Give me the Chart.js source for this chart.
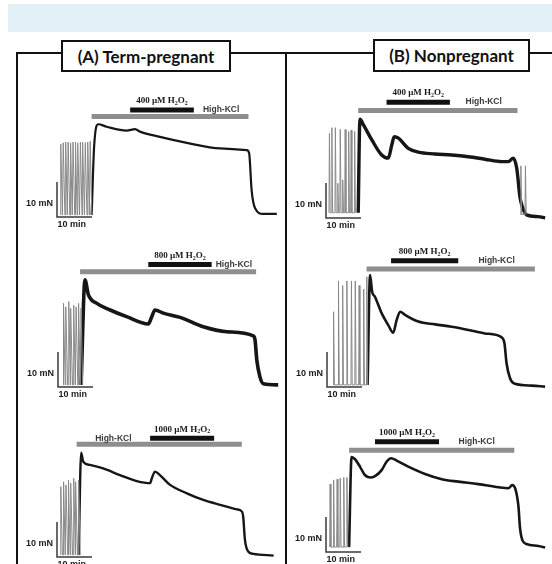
<!DOCTYPE html>
<html>
<head>
<meta charset="utf-8">
<script src="https://cdn.jsdelivr.net/npm/chart.js@4.4.0/dist/chart.umd.min.js"></script>
<style>
  body { margin: 0; background: #fff; width: 552px; height: 564px; overflow: hidden; position: relative; }
  .band { position: absolute; left: 8px; top: 4px; width: 544px; height: 28px; background: #e3f1f6; }
  .ln { position: absolute; background: #111; }
  .title { position: absolute; box-sizing: border-box; border: 2px solid #111; background: #fff;
           font: bold 17px Lato, sans-serif; color: #111; display: flex; align-items: center; justify-content: center; }
  canvas { position: absolute; }
</style>
</head>
<body>
<div class="band"></div>
<div class="ln" style="left:16px;top:52px;width:2px;height:512px"></div>
<div class="ln" style="left:16px;top:52px;width:536px;height:2px"></div>
<div class="ln" style="left:285px;top:52px;width:2px;height:512px"></div>
<div class="title" style="left:61px;top:40px;width:170px;height:32px">(A) Term-pregnant</div>
<div class="title" style="left:373px;top:39px;width:157px;height:33px">(B) Nonpregnant</div>

<canvas id="a1"></canvas>
<canvas id="b1"></canvas>
<canvas id="a2"></canvas>
<canvas id="b2"></canvas>
<canvas id="a3"></canvas>
<canvas id="b3"></canvas>

<script>
// Scale bars: 10 mN and 10 min
var scaleMin = 10;
var scaleMn = 10;

// (A) term-pregnant, 400 uM H2O2
var a1SpikeT = [1.0, 1.7, 2.4, 3.1, 3.8, 4.5, 5.2, 5.9, 6.6, 7.3, 8.0, 8.7, 9.4];
var a1SpikeF = [20.8, 21.2, 21.4, 21.4, 21.2, 21.4, 21.4, 21.2, 21.4, 21.4, 21.2, 21.4, 21.6];
var a1Time  = [9.9, 10.6, 11.8, 14.2, 19.9, 22.3, 23.7, 29.4, 37.1, 46.6, 54.2, 54.9, 55.6, 56.6, 58.9, 62.8];
var a1Force = [0.6, 20.0, 26.5, 25.8, 24.7, 25.1, 24.4, 22.9, 21.2, 19.6, 19.1, 18.2, 7.7, 2.5, 0.9, 0.9];
var a1Kcl  = [9.9, 54.7];
var a1Drug = [20.9, 39.1];

// (B) nonpregnant, 400 uM H2O2
var b1SpikeT = [0.9, 1.6, 2.6, 3.3, 4.0, 4.7, 5.4, 6.4, 7.1, 8.1];
var b1SpikeF = [24.2, 25.8, 25.8, 9.9, 25.3, 10.9, 25.3, 24.7, 25.1, 24.7];
var b1Time  = [9.2, 9.7, 10.7, 13.1, 15.9, 17.8, 18.8, 19.5, 20.7, 23.5, 26.4, 31.1, 35.9, 40.7, 45.4, 50.2, 52.1, 53.5, 54.5, 55.4, 56.1, 57.3, 60.6, 62.6];
var b1Force = [1.5, 28.2, 26.6, 22.3, 18.0, 17.1, 20.9, 23.2, 22.8, 19.9, 18.8, 18.3, 18.0, 17.5, 16.8, 16.1, 16.1, 17.1, 14.2, 6.1, 3.2, 0.9, 0.4, 0.0];
var b1LateT = [55.6, 56.9];
var b1LateF = [14.9, 14.9];
var b1Kcl  = [9.2, 54.7];
var b1Drug = [17.3, 35.4];

// (A) term-pregnant, 800 uM H2O2
var a2SpikeT = [1.5, 2.2, 3.0, 3.6, 4.4, 5.1, 5.8, 6.5];
var a2SpikeF = [23.9, 22.9, 24.4, 22.5, 23.4, 22.9, 23.9, 22.5];
var a2Time  = [6.6, 7.7, 8.7, 11.1, 14.9, 19.6, 25.8, 26.8, 27.7, 30.1, 34.9, 41.5, 48.2, 55.8, 56.3, 56.8, 57.7, 58.7, 62.9];
var a2Force = [0.6, 30.6, 26.3, 23.9, 22.0, 20.1, 18.0, 20.1, 22.0, 21.1, 19.9, 17.2, 15.8, 14.6, 13.4, 7.7, 2.9, 0.9, 0.6];
var a2Kcl  = [6.3, 56.6];
var a2Drug = [25.8, 43.9];

// (B) nonpregnant, 800 uM H2O2
var b2SpikeT = [1.8, 3.2, 4.4, 5.6, 6.9, 8.0, 9.1, 10.4, 11.3];
var b2SpikeF = [21.5, 30.3, 29.0, 30.3, 30.3, 30.3, 29.0, 28.0, 31.5];
var b2Time  = [11.6, 12.3, 12.9, 13.7, 15.6, 17.5, 18.9, 19.9, 20.9, 22.3, 26.1, 30.9, 35.6, 40.4, 45.1, 49.9, 50.7, 51.3, 52.3, 53.7, 58.5, 62.3];
var b2Force = [0.6, 32.0, 27.2, 25.8, 21.1, 17.7, 15.5, 19.1, 21.5, 20.6, 18.7, 17.9, 17.2, 16.3, 15.3, 14.2, 12.5, 6.8, 2.5, 0.9, 0.4, 0.1];
var b2Kcl  = [11.3, 59.4];
var b2Drug = [18.3, 37.5];

// (A) term-pregnant, 1000 uM H2O2
var a3SpikeT = [1.0, 1.8, 2.5, 3.2, 3.9, 4.7, 5.3, 6.1];
var a3SpikeF = [20.1, 21.5, 20.6, 22.0, 21.1, 22.5, 21.5, 22.0];
var a3Time  = [6.2, 6.9, 7.5, 9.4, 13.2, 18.0, 22.8, 26.6, 27.1, 28.0, 29.4, 32.3, 37.1, 41.8, 46.6, 51.4, 52.9, 53.2, 53.7, 54.7, 56.1, 61.9];
var a3Force = [0.6, 29.8, 27.2, 26.3, 25.3, 23.4, 21.7, 21.1, 22.5, 24.4, 23.4, 20.6, 18.2, 16.3, 14.9, 13.6, 12.9, 11.5, 4.9, 1.5, 0.9, 0.4];
var a3Kcl  = [5.6, 52.8];
var a3Drug = [26.6, 44.9];

// (B) nonpregnant, 1000 uM H2O2
var b3SpikeT = [1.1, 2.1, 3.1, 4.0, 5.0, 5.9];
var b3SpikeF = [19.4, 20.6, 20.8, 21.1, 21.3, 21.3];
var b3Time  = [6.6, 7.3, 8.3, 9.7, 11.1, 12.6, 14.0, 15.9, 17.3, 18.6, 20.2, 23.5, 28.3, 33.1, 37.8, 43.5, 49.2, 52.1, 53.2, 54.2, 55.0, 55.4, 56.1, 57.3, 60.7, 62.6];
var b3Force = [1.4, 27.1, 26.5, 24.4, 22.0, 21.3, 21.7, 23.4, 25.8, 26.8, 26.1, 24.4, 22.3, 20.8, 20.1, 19.4, 18.5, 18.2, 19.1, 17.7, 12.9, 7.2, 3.4, 2.3, 1.7, 1.3];
var b3Kcl  = [6.6, 53.8];
var b3Drug = [14.0, 32.3];

var K = 3.5; // pixels per minute and per mN

// canvas rect (left, top, w, h), scale-bar corner (ox, oy), bar levels in mN
var traces = [
  {id: 'a1', dose: 400,  sT: a1SpikeT, sF: a1SpikeF, base: 0.6, t: a1Time, f: a1Force, kcl: a1Kcl, drug: a1Drug,
   left: 20,  top: 84,  w: 264, h: 150, ox: 57,  oy: 217, kclY: 28.7, drugY: 30.6, lw: 2.2, relax: 0.55, kclSide: 'right'},
  {id: 'b1', dose: 400,  sT: b1SpikeT, sF: b1SpikeF, base: 1.5, t: b1Time, f: b1Force, kcl: b1Kcl, drug: b1Drug,
   lateT: b1LateT, lateF: b1LateF,
   left: 289, top: 84,  w: 263, h: 150, ox: 326, oy: 218, kclY: 30.7, drugY: 33.1, lw: 3.4, relax: 0.3, kclSide: 'right'},
  {id: 'a2', dose: 800,  sT: a2SpikeT, sF: a2SpikeF, base: 0.6, t: a2Time, f: a2Force, kcl: a2Kcl, drug: a2Drug,
   left: 20,  top: 238, w: 264, h: 168, ox: 58,  oy: 387, kclY: 32.9, drugY: 35.0, lw: 3.6, relax: 0.55, kclSide: 'right'},
  {id: 'b2', dose: 800,  sT: b2SpikeT, sF: b2SpikeF, base: 0.6, t: b2Time, f: b2Force, kcl: b2Kcl, drug: b2Drug,
   left: 289, top: 238, w: 263, h: 168, ox: 327, oy: 387, kclY: 33.7, drugY: 36.1, lw: 2.6, relax: 0.3, kclSide: 'right'},
  {id: 'a3', dose: 1000, sT: a3SpikeT, sF: a3SpikeF, base: 0.6, t: a3Time, f: a3Force, kcl: a3Kcl, drug: a3Drug,
   left: 20,  top: 408, w: 264, h: 156, ox: 57,  oy: 557, kclY: 32.2, drugY: 33.9, lw: 2.4, relax: 0.55, kclSide: 'left'},
  {id: 'b3', dose: 1000, sT: b3SpikeT, sF: b3SpikeF, base: 1.4, t: b3Time, f: b3Force, kcl: b3Kcl, drug: b3Drug,
   left: 289, top: 408, w: 263, h: 156, ox: 326, oy: 552, kclY: 29.1, drugY: 31.5, lw: 2.6, relax: 0.3, kclSide: 'right'}
];

function zip(xs, ys) {
  return xs.map(function (x, i) { return {x: x, y: ys[i]}; });
}

// each spontaneous contraction: fast rise to its peak, then relaxation back to base
function spikes(times, peaks, base, relax) {
  var pts = [];
  times.forEach(function (t, i) {
    pts.push({x: t - 0.05, y: base}, {x: t + 0.08, y: peaks[i]}, {x: t + relax, y: base});
  });
  return pts;
}

function drawDose(ctx, cx, y, dose) {
  var parts = [[dose + ' \u00b5M H', false], ['2', true], ['O', false], ['2', true]];
  var big = 'bold 9px "Liberation Serif", serif';
  var small = 'bold 6px "Liberation Serif", serif';
  var total = 0;
  parts.forEach(function (p) { ctx.font = p[1] ? small : big; total += ctx.measureText(p[0]).width; });
  var x = cx - total / 2;
  ctx.textAlign = 'left';
  ctx.textBaseline = 'middle';
  parts.forEach(function (p) {
    ctx.font = p[1] ? small : big;
    ctx.fillText(p[0], x, p[1] ? y + 2.5 : y);
    x += ctx.measureText(p[0]).width;
  });
}

var labelPlugin = {
  id: 'traceLabels',
  afterDatasetsDraw: function (chart) {
    var tr = chart.options.plugins.traceLabels.tr;
    var ctx = chart.ctx;
    var xs = chart.scales.x, ys = chart.scales.y;
    var x0 = xs.getPixelForValue(0), y0 = ys.getPixelForValue(0);
    ctx.save();
    ctx.fillStyle = '#1a1a1a';
    ctx.font = 'bold 9px "Liberation Sans", Arial, sans-serif';
    ctx.textBaseline = 'middle';
    ctx.textAlign = 'right';
    ctx.fillText(scaleMn + ' mN', x0 - 4, y0 - 13);
    ctx.textAlign = 'left';
    ctx.fillText(scaleMin + ' min', x0 + 0.5, y0 + 7.5);

    var dy = ys.getPixelForValue(tr.drugY);
    var d0 = xs.getPixelForValue(tr.drug[0]), d1 = xs.getPixelForValue(tr.drug[1]);
    drawDose(ctx, (d0 + d1) / 2, dy - 9, tr.dose);

    var kx = tr.kclSide === 'left'
      ? (xs.getPixelForValue(tr.kcl[0]) + d0) / 2
      : (d1 + xs.getPixelForValue(tr.kcl[1])) / 2;
    ctx.fillStyle = '#3a3a3a';
    ctx.font = 'bold 8.5px "Liberation Sans", Arial, sans-serif';
    ctx.textAlign = 'center';
    ctx.fillText('High-KCl', kx, dy);
    ctx.restore();
  }
};

traces.forEach(function (tr) {
  var cv = document.getElementById(tr.id);
  cv.width = tr.w; cv.height = tr.h;
  cv.style.left = tr.left + 'px'; cv.style.top = tr.top + 'px';

  var datasets = [
    {data: spikes(tr.sT, tr.sF, tr.base, tr.relax), borderColor: '#888888', borderWidth: 1, tension: 0},
    {data: zip(tr.t, tr.f), borderColor: '#161616', borderWidth: tr.lw, cubicInterpolationMode: 'monotone'},
    {data: [{x: tr.kcl[0], y: tr.kclY}, {x: tr.kcl[1], y: tr.kclY}], borderColor: '#8e8e8e', borderWidth: 5, borderCapStyle: 'butt'},
    {data: [{x: tr.drug[0], y: tr.drugY}, {x: tr.drug[1], y: tr.drugY}], borderColor: '#111', borderWidth: 5, borderCapStyle: 'butt'},
    {data: [{x: 0, y: scaleMn}, {x: 0, y: 0}, {x: scaleMin, y: 0}], borderColor: '#3a3a3a', borderWidth: 1.5, tension: 0}
  ];
  if (tr.lateT) {
    datasets.splice(1, 0, {data: spikes(tr.lateT, tr.lateF, 1.0, 0.3), borderColor: '#888888', borderWidth: 1, tension: 0});
  }

  new Chart(cv, {
    type: 'line',
    data: {datasets: datasets},
    options: {
      responsive: false,
      animation: false,
      events: [],
      layout: {padding: 0},
      elements: {point: {radius: 0}, line: {fill: false}},
      scales: {
        x: {type: 'linear', display: false, min: (tr.left - tr.ox) / K, max: (tr.left + tr.w - tr.ox) / K},
        y: {type: 'linear', display: false, min: (tr.oy - tr.top - tr.h) / K, max: (tr.oy - tr.top) / K}
      },
      plugins: {legend: {display: false}, tooltip: {enabled: false}, traceLabels: {tr: tr}}
    },
    plugins: [labelPlugin]
  });
});
</script>
</body>
</html>
